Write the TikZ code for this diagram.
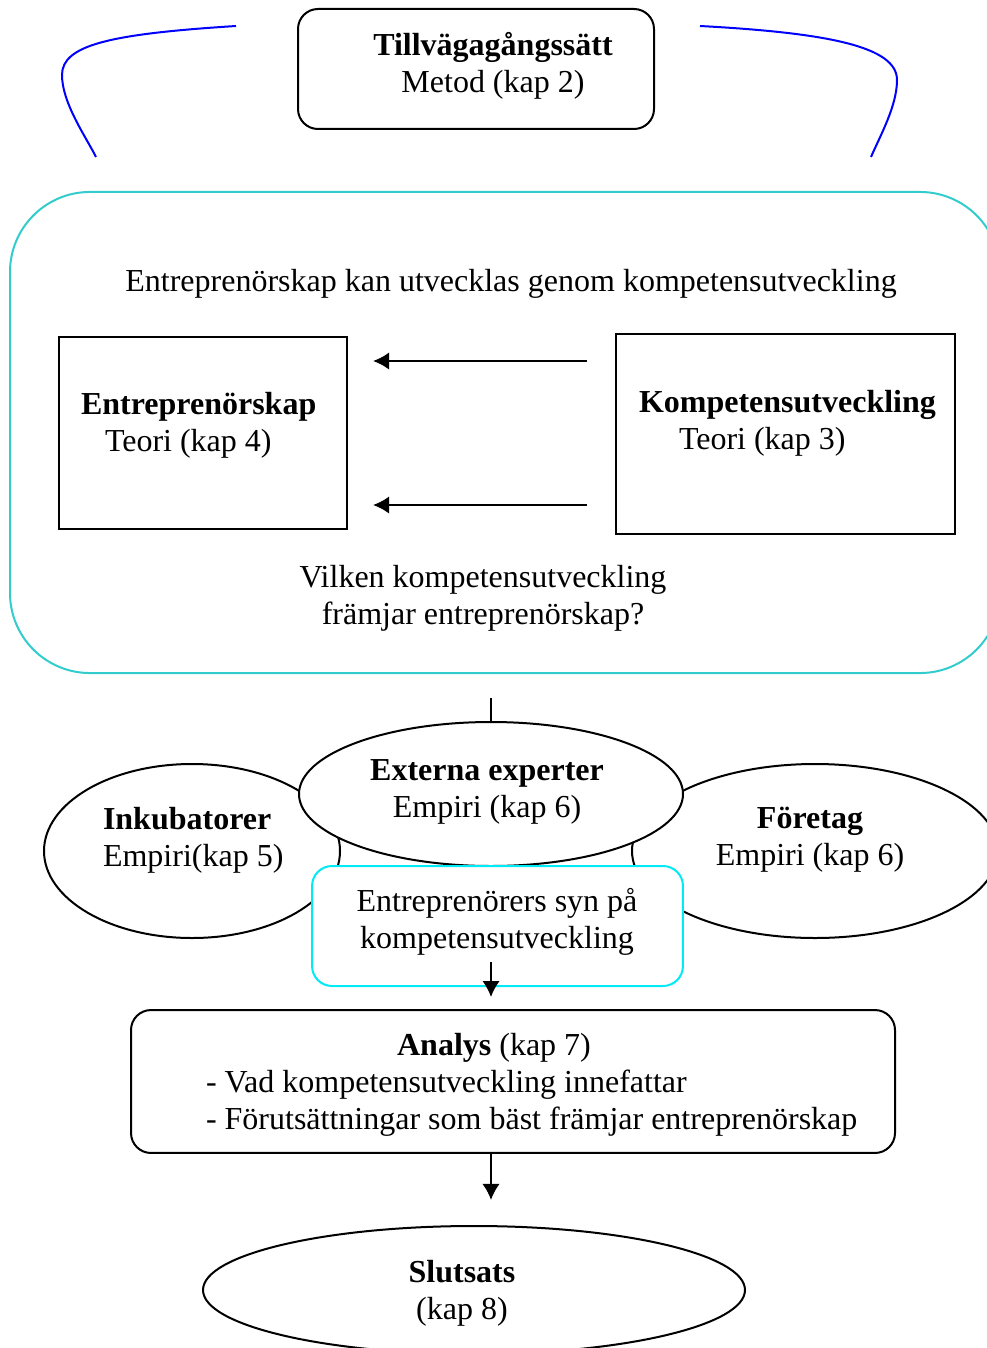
\documentclass[tikz,border=0pt]{standalone}
\usepackage{fontspec}
\setmainfont{Liberation Serif}
\usetikzlibrary{shapes.geometric,arrows.meta,calc}

\definecolor{ramfarg}{RGB}{51,204,204}
\definecolor{synfarg}{RGB}{0,235,245}

\begin{document}
\begin{tikzpicture}[
  x=0.375pt, y=-0.375pt,
  >={Latex[length=6pt,width=6.5pt]},
  line width=0.75pt,
  every node/.style={font=\fontsize{12}{14}\selectfont, inner sep=0pt, align=center},
  box/.style={draw, rectangle},
  rbox/.style={draw, rectangle, rounded corners=7.5pt, fill=white},
  oval/.style={draw, ellipse, fill=white},
  ]
  \useasboundingbox (0,0) rectangle (986,1348);

  % metod
  \node[rbox, minimum width=133.5pt, minimum height=45pt] (metod) at (476,69) {};
  \node (metodtxt) at (493,66) {\textbf{Tillvägagångssätt}\\Metod (kap 2)};
  \draw[blue] (236,26) .. controls (110,34) and (62,45) .. (62,75) .. controls (62,103) and (86,137) .. (96,157);
  \draw[blue] (700,26) .. controls (830,33) and (897,47) .. (897,80) .. controls (897,106) and (880,136) .. (871,157);

  % teori
  \node[draw=ramfarg, rectangle, rounded corners=30pt, minimum width=371.25pt, minimum height=180.4pt] (ram) at (505,432.5) {};
  \node (tes) at (511,284) {Entreprenörskap kan utvecklas genom kompetensutveckling};
  \node[box, minimum width=108pt, minimum height=72pt] (entr) at (203,433) {};
  \node[anchor=west, align=left] (entrtxt) at (80,425) {\textbf{Entreprenörskap}\\\hspace*{9pt}Teori (kap 4)};
  \node[box, minimum width=127.1pt, minimum height=75pt] (komp) at (785.5,434) {};
  \node[anchor=west, align=left] (komptxt) at (638,423) {\textbf{Kompetensutveckling}\\\hspace*{15pt}Teori (kap 3)};
  \node (fraga) at (483,598) {Vilken kompetensutveckling\\främjar entreprenörskap?};
  \coordinate (hi) at (0,361);
  \coordinate (lo) at (0,505);
  \draw[->, shorten <=10.5pt, shorten >=9.4pt] (komp.west |- hi) -- (entr.east |- hi);
  \draw[->, shorten <=10.5pt, shorten >=9.4pt] (komp.west |- lo) -- (entr.east |- lo);

  % empiri
  \node[oval, minimum width=111pt, minimum height=65.25pt] (inkub) at (192,851) {};
  \node[oval, minimum width=137.25pt, minimum height=65.25pt] (foretag) at (815,851) {};
  \node[oval, minimum width=144pt, minimum height=54pt] (ext) at (491,794) {};
  \node (exttxt) at (487,792) {\textbf{Externa experter}\\Empiri (kap 6)};
  \node[anchor=west, align=left] (inkubtxt) at (102,840) {\textbf{Inkubatorer}\\Empiri(kap 5)};
  \node (foretagtxt) at (810,840) {\textbf{Företag}\\Empiri (kap 6)};
  \draw[shorten <=9pt] (ext.north |- ram.south) -- (ext.north);
  \node[rbox, draw=synfarg, minimum width=139.1pt, minimum height=45pt] (syn) at (497.5,926) {};
  \node (syntxt) at (497,922) {Entreprenörers syn på\\kompetensutveckling};
  \coordinate (synpil) at ($(syn.south -| ext.south)+(0,-25)$);

  % analys och slutsats
  \node[rbox, minimum width=286.5pt, minimum height=53.6pt] (analys) at (513,1081.5) {};
  \node (analystxt) at (494,1048) {\textbf{Analys} (kap 7)};
  \node[anchor=west, align=left] (punkter) at (205,1103) {- Vad kompetensutveckling innefattar\\- Förutsättningar som bäst främjar entreprenörskap};
  \node[oval, minimum width=203.25pt, minimum height=48pt] (slut) at (474,1290) {};
  \node (sluttxt) at (462,1293) {\textbf{Slutsats}\\(kap 8)};

  \draw[->, shorten >=4.5pt] (synpil) -- (analys.north -| synpil);
  \draw[->, shorten >=9.4pt] (analys.south -| ext.south) -- (slut.north -| ext.south);
\end{tikzpicture}
\end{document}
